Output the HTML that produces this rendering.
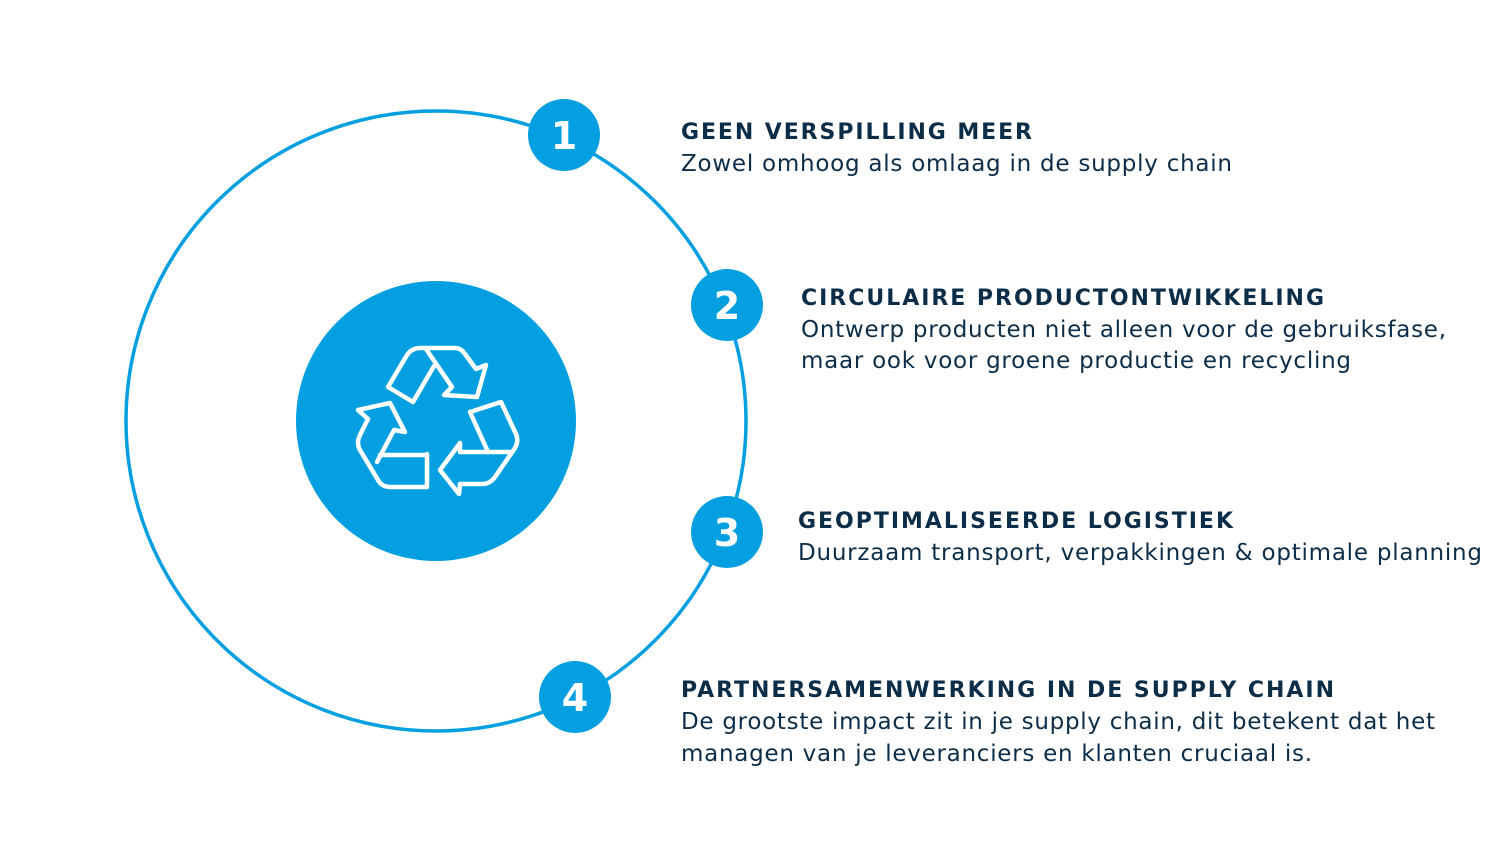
<!DOCTYPE html>
<html><head><meta charset="utf-8"><style>
html,body{margin:0;padding:0;background:#fff;}
svg{display:block}
.t{font-family:"DejaVu Sans","Liberation Sans",sans-serif;font-weight:bold;font-size:22px;fill:#0c2d48;letter-spacing:1px}
.b{font-family:"DejaVu Sans","Liberation Sans",sans-serif;font-size:23px;fill:#0c2d48}
.n{font-family:"DejaVu Sans","Liberation Sans",sans-serif;font-weight:bold;font-size:38px;fill:#fff;text-anchor:middle}
</style></head><body>
<svg width="1500" height="843" viewBox="0 0 1500 843" xmlns="http://www.w3.org/2000/svg">
<circle cx="436" cy="421" r="310" fill="none" stroke="#039fe0" stroke-width="3.5"/>
<circle cx="436" cy="421" r="140" fill="#039fe0"/>
<g fill="none" stroke="#fff" stroke-width="4.5" stroke-linejoin="round" stroke-linecap="round">
<path d="M413,402 L388,387 L407,355 Q412,348 420,348 L455,348 Q461,348 465,354 L476,369 L486,365 L477,397 L444,395 L452,387 L426,349"/>
<path d="M413,402 L434,366"/>
<path d="M427,454 L427,487 L390,487 Q382,487 378,480 L360,450 Q356,443 360,435 L368,419 L358,410 L390,403 L405,432 L394,430 L377,462"/>
<path d="M380,455 L427,455"/>
<path d="M470,412 L501,402 L516,434 Q519,441 515,448 L495,477 Q490,484 482,484 L460,484 L459,494 L440,470 L460,443 L460,452 L510,452"/>
<path d="M470,412 L488,452"/>
</g>
<circle cx="564" cy="135" r="36" fill="#039fe0"/>
<text class="n" x="564" y="149">1</text>
<circle cx="727" cy="305" r="36" fill="#039fe0"/>
<text class="n" x="727" y="319">2</text>
<circle cx="727" cy="532" r="36" fill="#039fe0"/>
<text class="n" x="727" y="546">3</text>
<circle cx="575" cy="697" r="36" fill="#039fe0"/>
<text class="n" x="575" y="711">4</text>

<text class="t" x="681" y="139" textLength="352">GEEN VERSPILLING MEER</text>
<text class="b" x="681" y="171" textLength="551">Zowel omhoog als omlaag in de supply chain</text>

<text class="t" x="801" y="305" textLength="524">CIRCULAIRE PRODUCTONTWIKKELING</text>
<text class="b" x="801" y="337" textLength="645">Ontwerp producten niet alleen voor de gebruiksfase,</text>
<text class="b" x="801" y="368" textLength="550">maar ook voor groene productie en recycling</text>

<text class="t" x="798" y="528" textLength="436">GEOPTIMALISEERDE LOGISTIEK</text>
<text class="b" x="798" y="560" textLength="684">Duurzaam transport, verpakkingen &amp; optimale planning</text>

<text class="t" x="681" y="697" textLength="654">PARTNERSAMENWERKING IN DE SUPPLY CHAIN</text>
<text class="b" x="681" y="729" textLength="754">De grootste impact zit in je supply chain, dit betekent dat het</text>
<text class="b" x="681" y="761" textLength="631">managen van je leveranciers en klanten cruciaal is.</text>
</svg>
</body></html>
